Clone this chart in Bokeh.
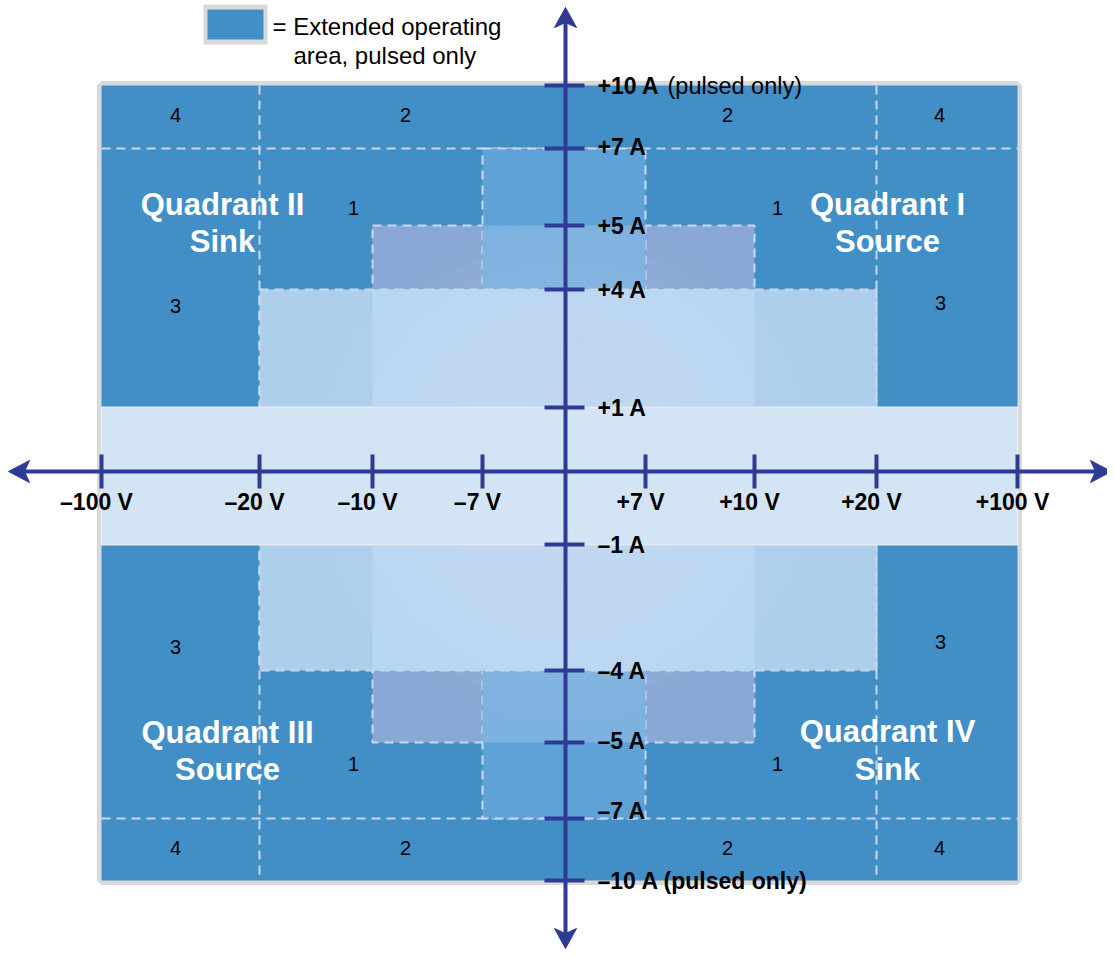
import numpy as np
from bokeh.plotting import figure
from bokeh.models import Range1d
from bokeh.embed import file_html
from bokeh.resources import INLINE
from bokeh.core.properties import value

# ---------------- data ----------------
voltage_ticks = [-100, -20, -10, -7, 7, 10, 20, 100]
voltage_labels = ["–100 V", "–20 V", "–10 V", "–7 V", "+7 V", "+10 V", "+20 V", "+100 V"]
current_ticks = [10, 7, 5, 4, 1, -1, -4, -5, -7, -10]
current_labels = ["+10 A", "+7 A", "+5 A", "+4 A", "+1 A", "–1 A", "–4 A", "–5 A", "–7 A",
                  "–10 A (pulsed only)"]
pulsed_note = "(pulsed only)"

# operating ranges as (max |V|, max |I|)
pulsed_area = (100, 10)
range_7A = (7, 7)
range_5A = (10, 5)
range_4A = (20, 4)
range_1A = (100, 1)
dashed_current = [7, -7]
dashed_voltage = [-20, 20]

region_numbers = ["4", "2", "2", "4", "1", "1", "3", "3",
                  "3", "3", "1", "1", "4", "2", "2", "4"]
quadrant_titles = ["Quadrant II", "Sink", "Quadrant I", "Source",
                   "Quadrant III", "Source", "Quadrant IV", "Sink"]
legend_lines = ["= Extended operating", "area, pulsed only"]

# ---------------- layout (piecewise axis positions, page pixels) ----------------
AXIS_V = [-100, -20, -10, -7, 0, 7, 10, 20, 100]
AXIS_X = [101, 259, 372, 482, 565, 645, 754, 876, 1017]
AXIS_A = [-10, -7, -5, -4, -1, 0, 1, 4, 5, 7, 10]
AXIS_Y = [880, 818, 742, 670, 544, 471, 407, 289, 225, 148, 85]

W, H = 1107, 949


def X(v):
    return np.interp(np.asarray(v, dtype=float), AXIS_V, AXIS_X)


def Y(a):
    return np.interp(np.asarray(a, dtype=float), AXIS_A, AXIS_Y)


def sym_rect(area):
    vmax, imax = area
    return dict(left=[X(-vmax)], right=[X(vmax)], top=[Y(imax)], bottom=[Y(-imax)])


def overlap(a, b):
    return (min(a[0], b[0]), min(a[1], b[1]))


FONT = value("Liberation Sans")
NAVY = "#2e3a93"
DARK = "#428ec6"
DASH = "#cdd8ec"

p = figure(width=W, height=H, x_range=Range1d(0, W), y_range=Range1d(H, 0),
           output_backend="svg", toolbar_location=None, min_border=0,
           x_axis_location=None, y_axis_location=None)
p.grid.visible = False
p.outline_line_color = None
p.background_fill_color = "white"

# frame + pulsed area
p.quad(**sym_rect(pulsed_area), fill_color=None, line_color="#d9d9d9", line_width=9)
p.quad(**sym_rect(pulsed_area), fill_color=DARK, line_color=None)

# dashed separators
xs, ys = [], []
for a in dashed_current:
    xs.append([X(-pulsed_area[0]), X(pulsed_area[0])])
    ys.append([Y(a), Y(a)])
for v in dashed_voltage:
    xs.append([X(v), X(v)])
    ys.append([Y(pulsed_area[1]), Y(-pulsed_area[1])])
p.multi_line(xs=xs, ys=ys, line_color=DASH, line_width=2, line_dash="9 6")

# operating ranges
p.quad(**sym_rect(range_5A), fill_color="#8aa8d6", line_color=DASH, line_width=2, line_dash="9 6")
p.quad(**sym_rect(range_7A), fill_color="#5fa2d8", line_color=DASH, line_width=2, line_dash="9 6")
p.quad(**sym_rect(overlap(range_5A, range_7A)), fill_color="#7db1df", line_color=None)
p.quad(**sym_rect(range_4A), fill_color="#aecfec", line_color=DASH, line_width=2, line_dash="9 6")
p.quad(**sym_rect(overlap(range_4A, range_5A)), fill_color="#b8d7f1", line_color=None)
p.quad(**sym_rect(range_1A), fill_color="#d3e4f4", line_color="#e2ebf6", line_width=2)

# subtle radial highlight at the origin
for r in range(30, 260, 20):
    p.ellipse(x=[X(0)], y=[Y(0)], width=2 * r, height=2 * r, fill_color="white",
              fill_alpha=0.018, line_color=None)

# axes
x0, y0 = float(X(0)), float(Y(0))
p.line([14, 1100], [y0, y0], line_color=NAVY, line_width=4)
p.line([x0, x0], [14, 942], line_color=NAVY, line_width=4)
p.patches(
    xs=[[8, 29, 24, 29], [1111, 1090, 1095, 1090], [x0, x0 - 11, x0, x0 + 11], [x0, x0 - 11, x0, x0 + 11]],
    ys=[[y0, y0 - 11, y0, y0 + 11], [y0, y0 - 11, y0, y0 + 11], [7, 27, 22, 27], [948, 928, 933, 928]],
    fill_color=NAVY, line_color=NAVY, line_width=1)

# ticks
p.segment(x0=X(voltage_ticks), x1=X(voltage_ticks), y0=[y0 - 17] * len(voltage_ticks),
          y1=[y0 + 17] * len(voltage_ticks), line_color=NAVY, line_width=4)
p.segment(x0=[x0 - 21] * len(current_ticks), x1=[x0 + 19] * len(current_ticks),
          y0=Y(current_ticks), y1=Y(current_ticks), line_color=NAVY, line_width=4)

# tick labels
p.text(x=X(voltage_ticks) - 5, y=[y0 + 30] * len(voltage_ticks), text=voltage_labels,
       text_font=FONT, text_font_size="23px", text_font_style="bold",
       text_align="center", text_baseline="middle", text_color="black")
label_dy = [0, -2, 0, 0, 0, 0, 0, -2, -8, 0]
p.text(x=[x0 + 32] * len(current_ticks), y=Y(current_ticks) + np.array(label_dy),
       text=current_labels, text_font=FONT, text_font_size="23px", text_font_style="bold",
       text_align="left", text_baseline="middle", text_color="black")
p.text(x=[x0 + 102], y=Y([current_ticks[0]]), text=[pulsed_note], text_font=FONT,
       text_font_size="23.5px", text_align="left", text_baseline="middle", text_color="black")

# region numbers
num_x = [175, 405, 727, 939, 353, 777, 175, 940, 175, 940, 353, 777, 175, 405, 727, 939]
num_y = [114, 114, 114, 114, 207, 207, 305, 302, 646, 641, 763, 763, 847, 847, 847, 847]
p.text(x=num_x, y=num_y, text=region_numbers, text_font=FONT, text_font_size="20px",
       text_align="center", text_baseline="middle", text_color="black")

# quadrant titles
q_x = [222, 222, 887, 887, 227, 227, 887, 887]
q_y = [204, 241, 204, 241, 732, 769, 731, 769]
p.text(x=q_x, y=q_y, text=quadrant_titles, text_font=FONT, text_font_size="31px",
       text_font_style="bold", text_align="center", text_baseline="middle", text_color="white")

# legend
p.quad(left=[203], right=[267], top=[4], bottom=[44], fill_color="#d9d9d9", line_color=None)
p.quad(left=[207], right=[263], top=[9], bottom=[39], fill_color=DARK, line_color=None)
p.text(x=[272, 293], y=[26, 55], text=legend_lines, text_font=FONT, text_font_size="24px",
       text_align="left", text_baseline="middle", text_color="black")

open("out.html", "w").write(file_html(p, INLINE))
